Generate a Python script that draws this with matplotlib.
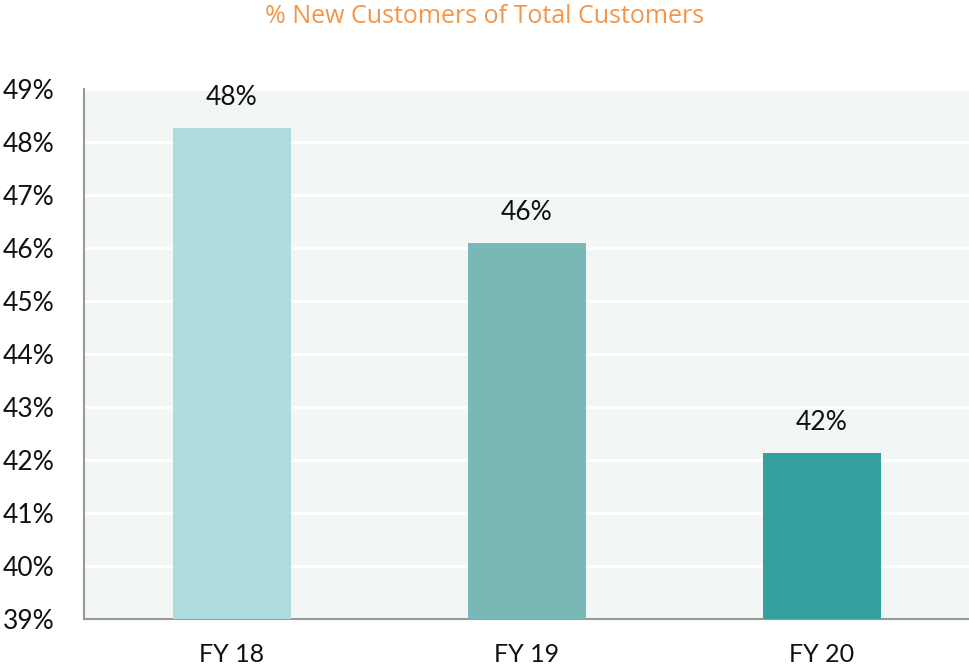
import matplotlib
matplotlib.use('Agg')
import matplotlib.pyplot as plt

categories = ['FY 18', 'FY 19', 'FY 20']
values = [48.26, 46.09, 42.13]
labels = ['48%', '46%', '42%']
colors = ['#afdcdc', '#78b8b7', '#36a09f']
yticks = list(range(39, 50))

plt.rcParams['font.family'] = ['Lato', 'DejaVu Sans']

fig = plt.figure(figsize=(9.69, 6.7), dpi=100)
ax = fig.add_axes([0.0867, 0.076, 0.9133, 0.791])
ax.set_facecolor('#f2f7f5')

x = range(len(categories))
bars = ax.bar(x, values, width=0.4, color=colors, zorder=3)
for xi, v, lab in zip(x, values, labels):
    ax.annotate(lab, (xi, v), xytext=(0, 22), textcoords='offset points',
                ha='center', va='center', fontsize=19, color='#111111')

ax.set_xlim(-0.5, 2.5)
ax.set_ylim(39, 49)
ax.set_yticks(yticks)
ax.set_yticklabels([f'{t}%' for t in yticks])
ax.set_xticks(list(x))
ax.set_xticklabels(categories)
ax.tick_params(axis='both', length=0, colors='#111111')
ax.tick_params(axis='y', pad=21, labelsize=19)
ax.tick_params(axis='x', pad=17, labelsize=18)
ax.grid(axis='y', color='white', linewidth=2, zorder=1)

for s in ['top', 'right']:
    ax.spines[s].set_visible(False)
for s in ['left', 'bottom']:
    ax.spines[s].set_color('#999999')
    ax.spines[s].set_linewidth(1.5)

fig.text(0.5, 0.975, '% New Customers of Total Customers', ha='center', va='center',
         fontsize=18, color='#f4964a', family=['Open Sans', 'DejaVu Sans'])

plt.savefig('out.png')
plt.close()
